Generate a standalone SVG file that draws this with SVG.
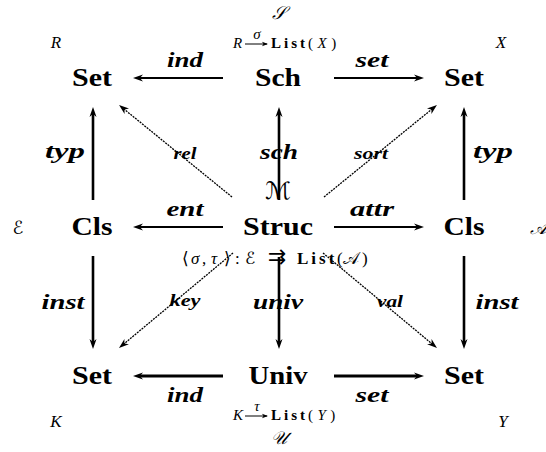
<svg xmlns="http://www.w3.org/2000/svg" width="546" height="452" viewBox="0 0 546 452">
<style>
.node{font-family:"Liberation Serif",serif;font-weight:bold;font-size:26px;text-anchor:middle;fill:#000}
.lab{font-family:"Liberation Serif",serif;font-weight:bold;font-style:italic;font-size:22px;text-anchor:middle;fill:#000}
.slab{font-family:"Liberation Serif",serif;font-weight:bold;font-style:italic;font-size:16px;text-anchor:middle;fill:#000}
.var{font-family:"Liberation Serif",serif;font-style:italic;font-size:17px;text-anchor:middle;fill:#000}
.scr{font-family:"DejaVu Serif","DejaVu Sans",serif;font-style:italic;font-size:18px;text-anchor:middle;fill:#000}
.cmp{font-family:"Liberation Serif","DejaVu Sans",serif;font-size:15px;fill:#000}
.cmp2{font-family:"Liberation Serif","DejaVu Sans",serif;font-size:17px;fill:#000}
.it{font-style:italic}
.bf{font-weight:bold}
.ar{fill:none;stroke:#000;stroke-width:2;marker-end:url(#ah)}
.thick{stroke-width:3}
.vert{stroke-width:2.6}
.diag{fill:none;stroke:#000;stroke-width:1.3;stroke-dasharray:2 1;marker-end:url(#ah)}
.sar{fill:none;stroke:#000;stroke-width:1;marker-end:url(#sah)}
</style>
<defs>
<marker id="ah" markerUnits="userSpaceOnUse" markerWidth="12" markerHeight="10" viewBox="0 -5 12 10" refX="4" refY="0" orient="auto">
<path d="M0,-3.5 L10,0 L0,3.5 L3,0 z" fill="#000"/>
</marker>
<marker id="sah" markerUnits="userSpaceOnUse" markerWidth="8" markerHeight="6" viewBox="0 -3 8 6" refX="5" refY="0" orient="auto">
<path d="M0,-2.2 L6,0 L0,2.2 L1.5,0 z" fill="#000"/>
</marker>
</defs>
<g id="connectors">
<path class="ar" d="M223,78 L139,78"/>
<path class="ar" d="M334,78 L418,78"/>
<path class="ar" d="M223,227 L139,227"/>
<path class="ar" d="M334,227 L418,227"/>
<path class="ar thick" d="M223,376 L139,376"/>
<path class="ar thick" d="M334,376 L418,376"/>
<path class="ar vert" d="M93,200 L93,113"/>
<path class="ar vert" d="M279,200 L279,113"/>
<path class="ar vert" d="M464,200 L464,113"/>
<path class="ar vert" d="M93,256 L93,343"/>
<path class="ar vert" d="M279,257 L279,343"/>
<path class="ar vert" d="M464,256 L464,343"/>
<path class="diag" d="M232,197 L123.7,108.8"/>
<path class="diag" d="M324,197 L432.3,108.8"/>
<path class="diag" d="M233,253 L123.6,344.2"/>
<path class="diag" d="M323,253 L432.4,344.2"/>
</g>
<g id="n-set-tl"><text class="node" x="92" y="86" textLength="40" lengthAdjust="spacingAndGlyphs">Set</text></g>
<g id="n-sch"><text class="node" x="278" y="86" textLength="46" lengthAdjust="spacingAndGlyphs">Sch</text></g>
<g id="n-set-tr"><text class="node" x="464" y="86" textLength="40" lengthAdjust="spacingAndGlyphs">Set</text></g>
<g id="n-cls-l"><text class="node" x="92" y="235" textLength="41" lengthAdjust="spacingAndGlyphs">Cls</text></g>
<g id="n-struc"><text class="node" x="278" y="235" textLength="70" lengthAdjust="spacingAndGlyphs">Struc</text></g>
<g id="n-cls-r"><text class="node" x="464" y="235" textLength="41" lengthAdjust="spacingAndGlyphs">Cls</text></g>
<g id="n-set-bl"><text class="node" x="92" y="384" textLength="40" lengthAdjust="spacingAndGlyphs">Set</text></g>
<g id="n-univ"><text class="node" x="278" y="384" textLength="59" lengthAdjust="spacingAndGlyphs">Univ</text></g>
<g id="n-set-br"><text class="node" x="464" y="384" textLength="40" lengthAdjust="spacingAndGlyphs">Set</text></g>
<g id="labels">
<text class="lab" x="185" y="67" textLength="36" lengthAdjust="spacingAndGlyphs">ind</text>
<text class="lab" x="372" y="67" textLength="33" lengthAdjust="spacingAndGlyphs">set</text>
<text class="lab" x="65" y="158" textLength="40" lengthAdjust="spacingAndGlyphs">typ</text>
<text class="lab" x="279" y="159" textLength="38" lengthAdjust="spacingAndGlyphs">sch</text>
<text class="lab" x="493" y="158" textLength="40" lengthAdjust="spacingAndGlyphs">typ</text>
<text class="slab" x="185" y="159" textLength="23" lengthAdjust="spacingAndGlyphs">rel</text>
<text class="slab" x="371" y="159" textLength="34" lengthAdjust="spacingAndGlyphs">sort</text>
<text class="lab" x="185" y="216" textLength="37" lengthAdjust="spacingAndGlyphs">ent</text>
<text class="lab" x="372" y="216" textLength="44" lengthAdjust="spacingAndGlyphs">attr</text>
<text class="lab" x="63" y="309" textLength="43" lengthAdjust="spacingAndGlyphs">inst</text>
<text class="lab" x="278" y="309" textLength="50" lengthAdjust="spacingAndGlyphs">univ</text>
<text class="lab" x="497" y="309" textLength="43" lengthAdjust="spacingAndGlyphs">inst</text>
<text class="slab" x="185" y="306" textLength="31" lengthAdjust="spacingAndGlyphs">key</text>
<text class="slab" x="390" y="307" textLength="26" lengthAdjust="spacingAndGlyphs">val</text>
<text class="lab" x="185" y="402" textLength="36" lengthAdjust="spacingAndGlyphs">ind</text>
<text class="lab" x="372" y="402" textLength="33" lengthAdjust="spacingAndGlyphs">set</text>
</g>
<g id="annotations">
<text class="scr" x="279" y="19">𝒮</text>
<text class="var" x="56" y="48">R</text>
<text class="var" x="501" y="48">X</text>
<text class="cmp it" x="233" y="48" font-size="14">R</text>
<path class="sar" d="M245,44 L267,44"/>
<text class="cmp it" x="257" y="39" font-size="10" text-anchor="middle">σ</text>
<text class="cmp" x="271" y="48"><tspan class="bf" letter-spacing="3">List</tspan><tspan letter-spacing="4.5">(<tspan class="it">X</tspan>)</tspan></text>
<text x="278" y="199" font-family="DejaVu Sans, sans-serif" font-size="24" text-anchor="middle" fill="#000">ℳ</text>
<text class="scr" x="18" y="234">ℰ</text>
<text class="scr" x="538" y="234">𝒜</text>
<text class="cmp2" y="264"><tspan x="182">⟨</tspan><tspan x="191" class="it">σ</tspan><tspan x="202">,</tspan><tspan x="211" class="it">τ</tspan><tspan x="224">⟩</tspan><tspan x="235">:</tspan><tspan x="245">ℰ</tspan><tspan x="268" font-size="22">⇉</tspan><tspan x="297" class="bf" letter-spacing="3">List</tspan><tspan x="337">(</tspan><tspan x="343">𝒜</tspan><tspan x="362">)</tspan></text>
<text class="var" x="56" y="427">K</text>
<text class="var" x="503" y="427">Y</text>
<text class="cmp it" x="233" y="420" font-size="14">K</text>
<path class="sar" d="M245,416 L267,416"/>
<text class="cmp it" x="257" y="411" font-size="10" text-anchor="middle">τ</text>
<text class="cmp" x="271" y="420"><tspan class="bf" letter-spacing="3">List</tspan><tspan letter-spacing="4.5">(<tspan class="it">Y</tspan>)</tspan></text>
<text class="scr" x="279" y="444">𝒰</text>
</g>
</svg>
